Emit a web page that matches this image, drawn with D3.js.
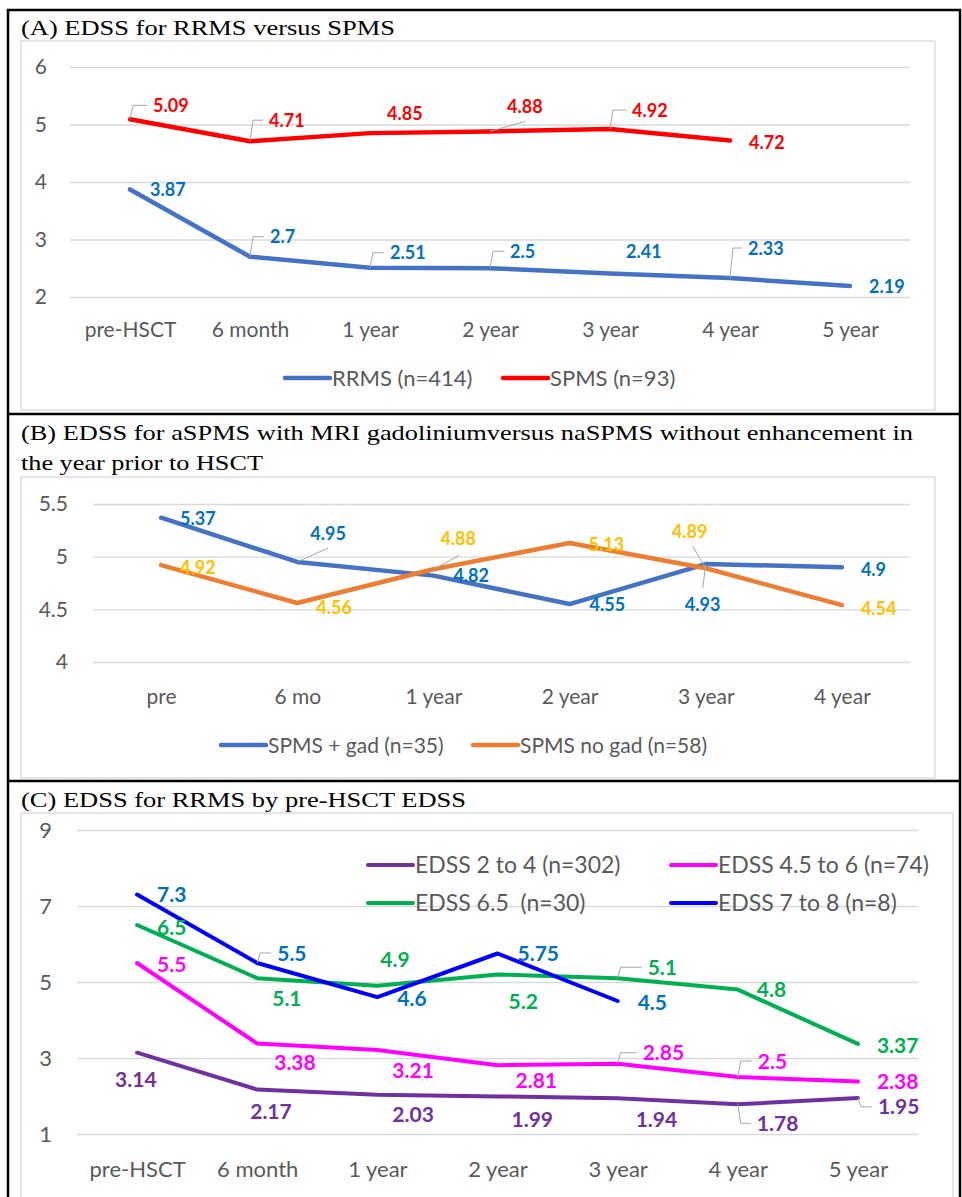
<!DOCTYPE html>
<meta charset="utf-8">
<script src="https://cdnjs.cloudflare.com/ajax/libs/d3/7.8.5/d3.min.js"></script>
<style>
body { margin: 0; background: #fff; }
svg text { font-family: Lato, "Open Sans", sans-serif; }
</style>
<body>
<script>
// ---- data ----
var catsA = ["pre-HSCT", "6 month", "1 year", "2 year", "3 year", "4 year", "5 year"];
var rrms = [3.87, 2.7, 2.51, 2.5, 2.41, 2.33, 2.19];
var spms = [5.09, 4.71, 4.85, 4.88, 4.92, 4.72];
var ticksA = [2, 3, 4, 5, 6];

var catsB = ["pre", "6 mo", "1 year", "2 year", "3 year", "4 year"];
var spmsGad = [5.37, 4.95, 4.82, 4.55, 4.93, 4.9];
var spmsNoGad = [4.92, 4.56, 4.88, 5.13, 4.89, 4.54];
var ticksB = [4, 4.5, 5, 5.5];

var catsC = ["pre-HSCT", "6 month", "1 year", "2 year", "3 year", "4 year", "5 year"];
var edss2to4 = [3.14, 2.17, 2.03, 1.99, 1.94, 1.78, 1.95];
var edss45to6 = [5.5, 3.38, 3.21, 2.81, 2.85, 2.5, 2.38];
var edss65 = [6.5, 5.1, 4.9, 5.2, 5.1, 4.8, 3.37];
var edss7to8 = [7.3, 5.5, 4.6, 5.75, 4.5];
var ticksC = [1, 3, 5, 7, 9];

// label placement: [dx, dy, leader]  leader: 0 none, "e" elbow, [x,y] straight end
var posRrms = [[20,0,0],[20,-20,"e"],[20,-15,"e"],[20,-17,"e"],[16,-22,0],[18,-30,"e"],[19,0,0]];
var posSpms = [[23,-14,"e"],[19,-21,"e"],[17,-20,0],[17,-25,[35,-10]],[22,-19,"e"],[19,2,0]];
var posGad = [[19,1,0],[13,-28,[31,-14]],[20,0,0],[20,0,0],[-21,40,[-3,24]],[19,2,0]];
var posNoGad = [[19,2,0],[19,5,0],[7,-31,[26,-14]],[19,2,0],[-34,-37,[-13,-22]],[19,3,0]];
var pos2to4 = [[-22,27,0],[-7,22,0],[15,20,0],[14,23,0],[18,21,0],[19,19,"e"],[20,9,"e"]];
var pos45to6 = [[20,1,0],[17,19,0],[15,20,0],[18,15,0],[25,-11,"e"],[20,-16,"e"],[19,0,0]];
var pos65 = [[20,2,0],[15,20,0],[3,-26,0],[11,27,0],[30,-11,"e"],[19,0,0],[19,1,0]];
var pos7to8 = [[20,0,0],[20,-10,"e"],[20,1,0],[20,0,0],[20,1,0]];

var w = 962, h = 1197;
var svg = d3.select("body").append("svg").attr("width", w).attr("height", h);

function panel(o) {
  var x = d3.scalePoint().domain(o.cats).range([o.x0, o.x1]).padding(0.5);
  var y = d3.scaleLinear().domain([o.ticks[0], o.ticks[o.ticks.length - 1]]).range([o.yb, o.yt]);

  // chart area
  svg.append("rect").attr("x", o.ax).attr("y", o.ay).attr("width", o.aw).attr("height", o.ah)
    .attr("fill", "white").attr("stroke", "#d9d9d9").attr("stroke-width", 1.3);

  // y axis + grid
  var gy = svg.append("g").attr("transform", "translate(" + o.x0 + ",0)")
    .call(d3.axisLeft(y).tickValues(o.ticks).tickFormat(function(d){ return d; })
      .tickSize(-(o.x1 - o.x0)).tickPadding(o.ypad));
  gy.select(".domain").remove();
  gy.selectAll("line").attr("stroke", "#d9d9d9").attr("stroke-width", 1.3);
  gy.selectAll("text").attr("fill", "#595959").style("font-size", o.fs + "px").style("font-family", "Lato");

  // x axis
  var gx = svg.append("g").attr("transform", "translate(0," + o.yb + ")")
    .call(d3.axisBottom(x).tickSize(0).tickPadding(o.xpad));
  gx.select(".domain").remove();
  gx.selectAll("text").attr("fill", "#595959").style("font-size", o.fs + "px").style("font-family", "Lato");

  // lines
  o.series.forEach(function(s) {
    svg.append("path").datum(s.values)
      .attr("d", d3.line().x(function(d, i){ return x(o.cats[i]); }).y(function(d){ return y(d); }))
      .attr("fill", "none").attr("stroke", s.color).attr("stroke-width", o.lw)
      .attr("stroke-linecap", "round").attr("stroke-linejoin", "round");
  });

  // data labels + leader lines
  o.series.forEach(function(s) {
    s.values.forEach(function(v, i) {
      var px = x(o.cats[i]), py = y(v);
      var p = s.pos[i];
      var lx = px + p[0], ly = py + p[1];
      if (p[2] === "e") {
        svg.append("path")
          .attr("d", "M" + px + "," + py + "L" + (px + 3) + "," + ly + "L" + (lx - 6) + "," + ly)
          .attr("fill", "none").attr("stroke", "#a6a6a6").attr("stroke-width", 1);
      } else if (p[2]) {
        svg.append("line").attr("x1", px).attr("y1", py)
          .attr("x2", px + p[2][0]).attr("y2", py + p[2][1])
          .attr("stroke", "#a6a6a6").attr("stroke-width", 1);
      }
      svg.append("text").attr("x", lx).attr("y", ly).attr("dy", "0.36em")
        .attr("fill", s.lcolor).style("font-weight", "bold").style("font-size", o.lfs + "px")
        .text(v);
    });
  });

  // legend
  o.legend.forEach(function(l) {
    svg.append("line").attr("x1", l.x).attr("x2", l.x + 45).attr("y1", l.y).attr("y2", l.y)
      .attr("stroke", l.color).attr("stroke-width", o.lw).attr("stroke-linecap", "round");
    svg.append("text").attr("x", l.x + 47).attr("y", l.y).attr("dy", "0.36em")
      .attr("fill", "#595959").style("font-size", o.legfs + "px").style("white-space", "pre")
      .text(l.text);
  });

  // title (Times-like, stretched to the printed width)
  o.title.forEach(function(t, i) {
    svg.append("text").attr("x", 21).attr("y", o.titleY[i])
      .attr("textLength", o.titleW[i]).attr("lengthAdjust", "spacingAndGlyphs")
      .style("font-family", "'Liberation Serif', 'DejaVu Serif', serif")
      .style("font-size", "22px").attr("fill", "black").text(t);
  });
}

panel({
  cats: catsA, ticks: ticksA, x0: 70, x1: 910, yb: 297, yt: 67,
  ax: 21, ay: 41, aw: 914, ah: 369, ypad: 23, xpad: 25, fs: 21, lfs: 18, lw: 4.5, legfs: 22,
  series: [
    {values: rrms, color: "#4472c4", lcolor: "#0070c0", pos: posRrms},
    {values: spms, color: "#ff0000", lcolor: "#ff0000", pos: posSpms}
  ],
  legend: [
    {x: 285, y: 378, color: "#4472c4", text: "RRMS (n=414)"},
    {x: 503, y: 378, color: "#ff0000", text: "SPMS (n=93)"}
  ],
  title: ["(A) EDSS for RRMS versus SPMS"], titleY: [35], titleW: [374]
});

panel({
  cats: catsB, ticks: ticksB, x0: 93, x1: 910, yb: 662, yt: 504,
  ax: 21, ay: 477, aw: 914, ah: 301, ypad: 25, xpad: 27, fs: 21, lfs: 18, lw: 4.5, legfs: 21,
  series: [
    {values: spmsGad, color: "#4472c4", lcolor: "#0070c0", pos: posGad},
    {values: spmsNoGad, color: "#ed7d31", lcolor: "#ffc000", pos: posNoGad}
  ],
  legend: [
    {x: 221, y: 745, color: "#4472c4", text: "SPMS + gad (n=35)"},
    {x: 473, y: 745, color: "#ed7d31", text: "SPMS no gad (n=58)"}
  ],
  title: ["(B) EDSS for aSPMS with MRI gadoliniumversus naSPMS without enhancement in",
          "the year prior to HSCT"],
  titleY: [440, 470], titleW: [892, 242]
});

panel({
  cats: catsC, ticks: ticksC, x0: 77, x1: 918, yb: 1134, yt: 830,
  ax: 21, ay: 813, aw: 932, ah: 420, ypad: 25, xpad: 27, fs: 22, lfs: 21, lw: 4, legfs: 23,
  series: [
    {values: edss2to4, color: "#7030a0", lcolor: "#7030a0", pos: pos2to4},
    {values: edss45to6, color: "#ff00ff", lcolor: "#ff00ff", pos: pos45to6},
    {values: edss65, color: "#00b050", lcolor: "#00b050", pos: pos65},
    {values: edss7to8, color: "#0000ff", lcolor: "#0070c0", pos: pos7to8}
  ],
  legend: [
    {x: 368, y: 865, color: "#7030a0", text: "EDSS 2 to 4 (n=302)"},
    {x: 671, y: 865, color: "#ff00ff", text: "EDSS 4.5 to 6 (n=74)"},
    {x: 368, y: 903, color: "#00b050", text: "EDSS 6.5  (n=30)"},
    {x: 671, y: 903, color: "#0000ff", text: "EDSS 7 to 8 (n=8)"}
  ],
  title: ["(C) EDSS for RRMS by pre-HSCT EDSS"], titleY: [807], titleW: [445]
});

// outer black frame and separators
svg.append("rect").attr("x", 8).attr("y", 10).attr("width", 952).attr("height", 1230)
  .attr("fill", "none").attr("stroke", "black").attr("stroke-width", 2.5);
[414, 781].forEach(function(yy) {
  svg.append("line").attr("x1", 8).attr("x2", 960).attr("y1", yy).attr("y2", yy)
    .attr("stroke", "black").attr("stroke-width", 2.5);
});
</script>
</body>
